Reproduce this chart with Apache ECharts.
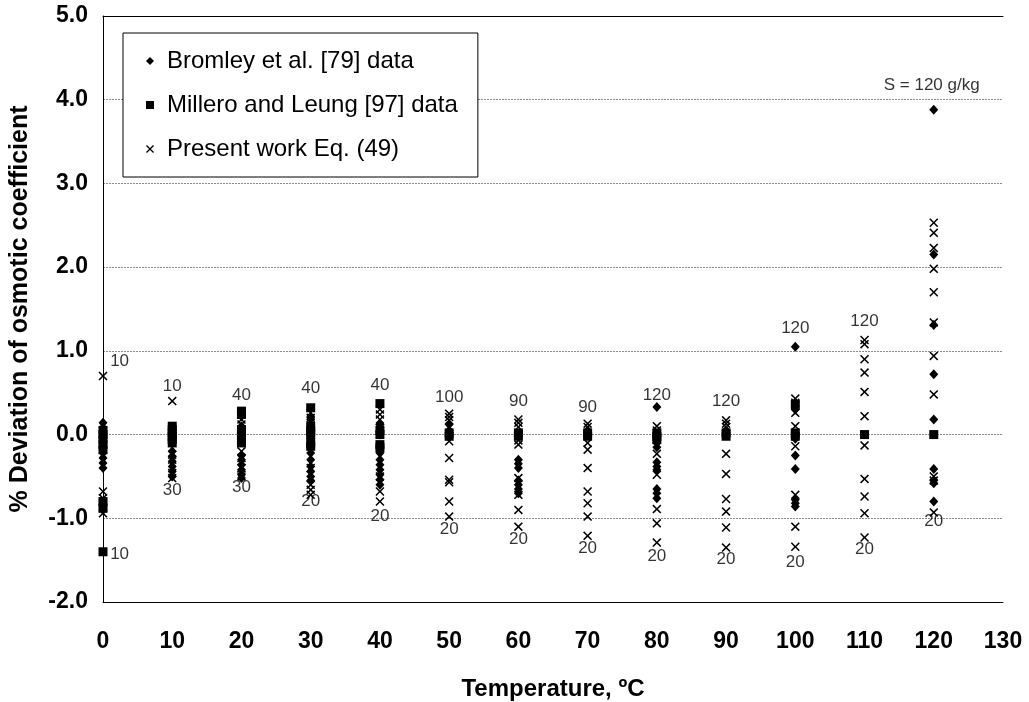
<!DOCTYPE html>
<html>
<head>
<meta charset="utf-8">
<script src="https://cdn.jsdelivr.net/npm/echarts@6/dist/echarts.min.js"></script>
<style>
  html, body { margin: 0; padding: 0; background: #fff; }
  #chart { width: 1029px; height: 702px; }
</style>
</head>
<body>
<div id="chart"></div>
<script>
// Temperature (ºC) vs % deviation
const bromley = [
  [0,0.14],[0,0.08],[0,0.03],[0,-0.03],[0,-0.15],[0,-0.22],[0,-0.28],[0,-0.34],[0,-0.40],[0,-0.82],[0,-0.90],
  [10,0.02],[10,-0.20],[10,-0.26],[10,-0.32],[10,-0.38],[10,-0.44],[10,-0.50],
  [20,0.22],[20,0.10],[20,0.0],[20,-0.08],[20,-0.25],[20,-0.30],[20,-0.36],[20,-0.42],[20,-0.48],[20,-0.52],
  [30,0.20],[30,0.08],[30,-0.02],[30,-0.15],[30,-0.22],[30,-0.30],[30,-0.38],[30,-0.44],[30,-0.50],[30,-0.55],
  [40,0.12],[40,0.0],[40,-0.15],[40,-0.22],[40,-0.30],[40,-0.36],[40,-0.42],[40,-0.48],[40,-0.54],[40,-0.60],
  [50,0.12],[50,0.05],
  [60,-0.30],[60,-0.35],[60,-0.40],[60,-0.55],[60,-0.60],[60,-0.65],[60,-0.70],
  [70,0.05],
  [80,0.33],[80,-0.10],[80,-0.15],[80,-0.33],[80,-0.38],[80,-0.42],[80,-0.65],[80,-0.70],[80,-0.76],
  [90,0.05],
  [100,1.05],[100,0.30],[100,-0.02],[100,-0.05],[100,-0.25],[100,-0.41],[100,-0.78],[100,-0.82],[100,-0.86],
  [120,3.88],[120,2.15],[120,1.31],[120,0.72],[120,0.18],[120,-0.41],[120,-0.55],[120,-0.58],[120,-0.80]
];

const millero = [
  [0,0.05],[0,0.0],[0,-0.06],[0,-0.12],[0,-0.18],[0,-0.80],[0,-0.88],[0,-1.40],
  [10,0.10],[10,0.06],[10,0.02],[10,-0.02],[10,-0.06],[10,-0.10],
  [20,0.28],[20,0.24],[20,0.06],[20,0.02],[20,-0.02],[20,-0.10],
  [30,0.32],[30,0.10],[30,0.04],[30,0.0],[30,-0.10],[30,-0.14],
  [40,0.37],[40,0.05],[40,0.0],[40,-0.12],[40,-0.16],
  [50,0.02],[50,-0.02],
  [60,0.02],[60,-0.02],
  [70,0.02],[70,-0.02],
  [80,0.02],[80,-0.02],[80,-0.06],
  [90,0.02],[90,-0.02],
  [100,0.36],[100,0.02],[100,-0.02],
  [110,0.0],
  [120,0.0]
];

const present = [
  [0,0.70],[0,-0.68],[0,-0.76],[0,-0.82],[0,-0.88],[0,-0.94],
  [10,0.40],[10,-0.24],[10,-0.30],[10,-0.46],[10,-0.52],
  [20,0.18],[20,0.12],[20,-0.20],[20,-0.28],[20,-0.40],[20,-0.50],
  [30,0.26],[30,0.20],[30,0.14],[30,-0.40],[30,-0.60],[30,-0.66],[30,-0.72],
  [40,0.30],[40,0.24],[40,0.18],[40,0.08],[40,-0.50],[40,-0.68],[40,-0.80],
  [50,0.25],[50,0.21],[50,0.17],[50,-0.08],[50,-0.28],[50,-0.54],[50,-0.57],[50,-0.80],[50,-0.98],
  [60,0.18],[60,0.14],[60,0.09],[60,-0.07],[60,-0.12],[60,-0.52],[60,-0.72],[60,-0.90],[60,-1.10],
  [70,0.13],[70,0.09],[70,-0.10],[70,-0.18],[70,-0.40],[70,-0.68],[70,-0.82],[70,-0.98],[70,-1.21],
  [80,0.10],[80,0.05],[80,-0.23],[80,-0.48],[80,-0.89],[80,-1.06],[80,-1.29],
  [90,0.17],[90,0.13],[90,0.09],[90,-0.23],[90,-0.47],[90,-0.77],[90,-0.92],[90,-1.11],[90,-1.35],
  [100,0.43],[100,0.38],[100,0.26],[100,0.10],[100,-0.14],[100,-0.72],[100,-1.10],[100,-1.34],
  [110,1.13],[110,1.08],[110,0.90],[110,0.74],[110,0.51],[110,0.22],[110,-0.13],[110,-0.53],[110,-0.74],[110,-0.94],[110,-1.23],
  [120,2.53],[120,2.41],[120,2.23],[120,1.98],[120,1.70],[120,1.34],[120,0.94],[120,0.48],[120,-0.50],[120,-0.55],[120,-0.93]
];

// salinity labels (g/kg) placed next to each column: [x, y, text]
const notes = [
  [2.4,0.88,'10'],[2.4,-1.43,'10'],
  [10,0.58,'10'],[10,-0.66,'30'],
  [20,0.47,'40'],[20,-0.63,'30'],
  [30,0.55,'40'],[30,-0.80,'20'],
  [40,0.59,'40'],[40,-0.98,'20'],
  [50,0.44,'100'],[50,-1.13,'20'],
  [60,0.40,'90'],[60,-1.25,'20'],
  [70,0.32,'90'],[70,-1.36,'20'],
  [80,0.47,'120'],[80,-1.45,'20'],
  [90,0.40,'120'],[90,-1.49,'20'],
  [100,1.27,'120'],[100,-1.53,'20'],
  [110,1.35,'120'],[110,-1.37,'20'],
  [120,-1.04,'20'],
  [119.7,4.17,'S = 120 g/kg']
];

const FONT = '"Liberation Sans", Arial, sans-serif';
const CROSS = 'path://M0,1.2L1.2,0L5,3.8L8.8,0L10,1.2L6.2,5L10,8.8L8.8,10L5,6.2L1.2,10L0,8.8L3.8,5Z';

const chart = echarts.init(document.getElementById('chart'), null, { renderer: 'canvas' });
chart.setOption({
  animation: false,
  backgroundColor: '#fff',
  textStyle: { fontFamily: FONT },
  grid: { left: 103, top: 16, right: 26, bottom: 100, containLabel: false, outerBoundsMode: 'none' },
  legend: {
    left: 123, top: 33,
    orient: 'vertical',
    data: ['Bromley et al. [79] data', 'Millero and Leung [97] data', 'Present work Eq. (49)'],
    itemWidth: 8, itemHeight: 8, itemGap: 20,
    padding: [16, 20, 16, 23],
    borderColor: '#000', borderWidth: 1,
    backgroundColor: '#fff',
    textStyle: { fontSize: 24, color: '#000', fontFamily: FONT, padding: [0, 0, 0, 8] }
  },
  xAxis: [{
    type: 'value', min: 0, max: 130, interval: 10,
    name: 'Temperature, ºC', nameLocation: 'middle', nameGap: 75,
    nameTextStyle: { fontSize: 24, fontWeight: 'bold', color: '#000', fontFamily: FONT },
    axisLine: { show: true, onZero: false, lineStyle: { color: '#000', width: 1 } },
    axisTick: { show: false },
    axisLabel: { fontSize: 23, fontWeight: 'bold', color: '#000', margin: 28, fontFamily: FONT },
    splitLine: { show: false }
  }, {
    type: 'value', min: 0, max: 130, position: 'top',
    axisLine: { show: true, onZero: false, lineStyle: { color: '#000', width: 1 } },
    axisTick: { show: false }, axisLabel: { show: false }, splitLine: { show: false }
  }],
  yAxis: {
    type: 'value', min: -2, max: 5, interval: 1,
    name: '% Deviation of osmotic coefficient', nameLocation: 'middle', nameGap: 70,
    nameTextStyle: { fontSize: 25, fontWeight: 'bold', color: '#000', fontFamily: FONT },
    axisLine: { show: true, onZero: false, lineStyle: { color: '#000', width: 1 } },
    axisTick: { show: false },
    axisLabel: { fontSize: 23, fontWeight: 'bold', color: '#000', margin: 15, fontFamily: FONT,
      formatter: v => v.toFixed(1) },
    splitLine: { show: true, lineStyle: { color: '#8a8a8a', width: 1, type: [2, 1] } }
  },
  series: [
    { name: 'Bromley et al. [79] data', type: 'scatter', symbol: 'diamond', symbolSize: [9, 10],
      itemStyle: { color: '#000', opacity: 1 }, data: bromley },
    { name: 'Millero and Leung [97] data', type: 'scatter', symbol: 'rect', symbolSize: 9,
      itemStyle: { color: '#000', opacity: 1 }, data: millero },
    { name: 'Present work Eq. (49)', type: 'scatter', symbol: CROSS, symbolSize: 9,
      itemStyle: { color: '#000', opacity: 1 }, data: present },
    { name: 'notes', type: 'scatter', symbolSize: 0, silent: true,
      data: notes,
      label: { show: true, position: 'inside', fontSize: 17, color: '#000', fontFamily: FONT,
        formatter: p => p.data[2] } }
  ]
});
</script>
</body>
</html>
